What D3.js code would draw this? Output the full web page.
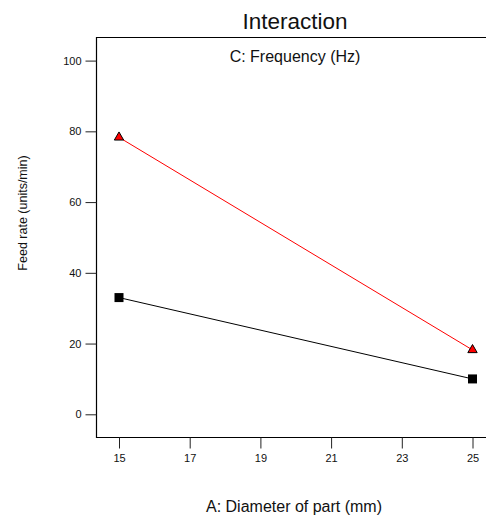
<!DOCTYPE html>
<html>
<head>
<meta charset="utf-8">
<script src="https://cdn.jsdelivr.net/npm/d3@7"></script>
<style>
  html, body { margin: 0; padding: 0; background: #fff; }
  svg { display: block; font-family: "Liberation Sans", Arial, sans-serif; }
</style>
</head>
<body>
<svg id="chart" width="486" height="521"></svg>
<script>
// Factor A levels (Diameter of part, mm)
const diameters = [15, 25];
// Feed rate at each level of C: Frequency
const lowFrequency = [33.0, 10.0];   // black squares
const highFrequency = [78.3, 18.2];  // red triangles
const xTicks = [15, 17, 19, 21, 23, 25];
const yTicks = [0, 20, 40, 60, 80, 100];

const svg = d3.select("#chart");

const x = d3.scaleLinear().domain([15, 25]).range([119, 472.5]);
const y = d3.scaleLinear().domain([0, 100]).range([414.3, 60.6]);

const frame = { left: 96.5, top: 37.5, bottom: 437.5, right: 490 };

// plot frame: left axis, top edge, bottom axis
svg.append("path")
  .attr("d", `M${frame.right},${frame.top}H${frame.left}V${frame.bottom}H${frame.right}`)
  .attr("fill", "none").attr("stroke", "#000").attr("stroke-width", 1.2);

// y axis
const yAxis = d3.axisLeft(y).tickValues(yTicks).tickSize(11).tickPadding(4).tickFormat(d3.format("d"));
const gy = svg.append("g").attr("transform", `translate(${frame.left},0)`).call(yAxis);
gy.select(".domain").remove();
gy.selectAll("line").attr("stroke", "#222");
gy.selectAll("text").attr("font-size", 11).attr("fill", "#111")
  .attr("font-family", "Liberation Sans, Arial, sans-serif");

// x axis
const xAxis = d3.axisBottom(x).tickValues(xTicks).tickSize(11).tickPadding(6).tickFormat(d3.format("d"));
const gx = svg.append("g").attr("transform", `translate(0,${frame.bottom})`).call(xAxis);
gx.select(".domain").remove();
gx.selectAll("line").attr("stroke", "#222");
gx.selectAll("text").attr("font-size", 11).attr("fill", "#111")
  .attr("font-family", "Liberation Sans, Arial, sans-serif");

// titles and axis labels
svg.append("text").attr("x", 295).attr("y", 29).attr("text-anchor", "middle")
  .attr("font-size", 22.5).attr("fill", "#111").text("Interaction");
svg.append("text").attr("x", 295).attr("y", 62).attr("text-anchor", "middle")
  .attr("font-size", 16).attr("fill", "#111").text("C: Frequency (Hz)");
svg.append("text").attr("x", 294).attr("y", 512).attr("text-anchor", "middle")
  .attr("font-size", 16).attr("fill", "#111").text("A: Diameter of part (mm)");
svg.append("text").attr("transform", "translate(27,213) rotate(-90)").attr("text-anchor", "middle")
  .attr("font-size", 12.5).attr("fill", "#111").text("Feed rate (units/min)");

const line = d3.line().x((d, i) => x(diameters[i])).y(d => y(d));

// low frequency series
svg.append("path").datum(lowFrequency).attr("d", line)
  .attr("fill", "none").attr("stroke", "#000").attr("stroke-width", 1);
svg.selectAll(".sq").data(lowFrequency).enter().append("rect")
  .attr("x", (d, i) => x(diameters[i]) - 4.5).attr("y", d => y(d) - 4.5)
  .attr("width", 9).attr("height", 9).attr("fill", "#000");

// high frequency series
svg.append("path").datum(highFrequency).attr("d", line)
  .attr("fill", "none").attr("stroke", "#ff0000").attr("stroke-width", 1);
const tri = d3.symbol().type(d3.symbolTriangle).size(38);
svg.selectAll(".tri").data(highFrequency).enter().append("path")
  .attr("d", tri)
  .attr("transform", (d, i) => `translate(${x(diameters[i])},${y(d)})`)
  .attr("fill", "#ff0000").attr("stroke", "#000").attr("stroke-width", 1);
</script>
</body>
</html>
